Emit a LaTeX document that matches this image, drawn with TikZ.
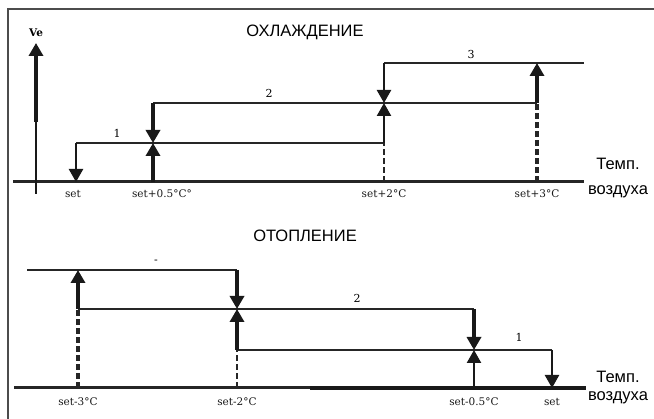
\documentclass[tikz,border=0pt]{standalone}
\usepackage{fontspec}
\setmainfont{Liberation Sans}
\newfontfamily\tickfont{DejaVu Serif}
\usetikzlibrary{arrows.meta}
\tikzset{
  thinline/.style={line width=1.8pt, black!85},
  baseln/.style={line width=3pt, black!85},
  thickarr/.style={line width=3.8pt, black!90, -{Triangle[width=14pt,length=13pt]}},
  medarr/.style={line width=2.4pt, black!90, -{Triangle[width=14pt,length=13pt]}},
  dashln/.style={line width=2.2pt, black!85, dash pattern=on 6pt off 3pt},
  dashthick/.style={line width=3.4pt, black!85, dash pattern=on 6pt off 3pt},
  title/.style={font=\fontsize{16.5}{18}\selectfont, inner sep=0pt},
  axlabel/.style={font=\fontsize{16.5}{18}\selectfont, inner sep=0pt},
  tick/.style={font=\tickfont\fontsize{10.5}{12}\selectfont, inner sep=0pt, black!90},
  num/.style={font=\tickfont\fontsize{11}{12}\selectfont, inner sep=0pt},
  framel/.style={line width=1.8pt, black!70}
}
\begin{document}
\begin{tikzpicture}[x=1pt,y=-1pt]
\useasboundingbox (0,0) rectangle (654,419);
% frame
\coordinate (fl) at (8,419);
\coordinate (fc) at (8,9);
\coordinate (fr) at (654,9);
\draw[framel] (fl) -- (fc) -- (fr);

% ===== Cooling =====
\node[title] (tc) at (305,32) {ОХЛАЖДЕНИЕ};
\coordinate (cb0) at (13,182);
\coordinate (cb1) at (584,182);
\draw[baseln] (cb0) -- (cb1);
% Ve axis
\coordinate (ve0) at (36,194);
\coordinate (ve1) at (36,122);
\coordinate (ve2) at (36,43);
\draw[line width=2.4pt, black!90] (ve0) -- (ve1);
\draw[thickarr] (ve1) -- (ve2);
\node[font=\tickfont\bfseries\fontsize{10.5}{12}\selectfont, inner sep=0pt] (ve) at (36,33) {Ve};
% points
\coordinate (a0) at (76,182);  \coordinate (a1) at (76,143);
\coordinate (b0) at (153,182); \coordinate (b1) at (153,143); \coordinate (b2) at (153,103);
\coordinate (c0) at (384,182); \coordinate (c1) at (384,143); \coordinate (c2) at (384,103); \coordinate (c3) at (384,63);
\coordinate (d0) at (537,182); \coordinate (d2) at (537,103); \coordinate (d3) at (537,63);
\coordinate (e3) at (584,63);
% levels
\draw[thinline] (a1) -- (c1);
\draw[thinline] (b2) -- (d2);
\draw[thinline] (c3) -- (e3);
% arrows
\draw[medarr] (a1) -- (a0);
\draw[thickarr] (b0) -- (b1);
\draw[thickarr] (b2) -- (b1);
\draw[dashln] (c0) -- (c1);
\draw[medarr] (c1) -- (c2);
\draw[medarr] (c3) -- (c2);
\draw[dashthick] (d0) -- (d2);
\draw[thickarr] (d2) -- (d3);
% labels
\node[num] (n1) at (117,133) {1};
\node[num] (n2) at (269,93) {2};
\node[num] (n3) at (471,55) {3};
\node[tick] (t1) at (73,194) {set};
\node[tick] (t2) at (162,194) {set+0.5°C°};
\node[tick] (t3) at (384,194) {set+2°C};
\node[tick] (t4) at (537,194) {set+3°C};
\node[axlabel] (xa1) at (618,164) {Темп.};
\node[axlabel] (xb1) at (618,192) {воздуха};

% ===== Heating =====
\node[title] (th) at (305,236) {ОТОПЛЕНИЕ};
\coordinate (hb0) at (14,388);
\coordinate (hbm) at (310,388);
\coordinate (hb1) at (586,388);
\draw[baseln] (hb0) -- (hb1);
\draw[line width=3.6pt, black!90] (hbm) -- (hb1);
\coordinate (p0) at (78,388);  \coordinate (p2) at (78,309);  \coordinate (p3) at (78,270);
\coordinate (h3s) at (27,270);
\coordinate (q0) at (237,388); \coordinate (q1) at (237,350); \coordinate (q2) at (237,309); \coordinate (q3) at (237,270);
\coordinate (r0) at (474,388); \coordinate (r1) at (474,350); \coordinate (r2) at (474,309);
\coordinate (s0) at (552,388); \coordinate (s1) at (552,350);
\draw[thinline] (h3s) -- (q3);
\draw[thinline] (p2) -- (r2);
\draw[thinline] (q1) -- (s1);
\draw[dashthick] (p0) -- (p2);
\draw[thickarr] (p2) -- (p3);
\draw[thickarr] (q3) -- (q2);
\draw[dashln] (q0) -- (q1);
\draw[thickarr] (q1) -- (q2);
\draw[thickarr] (r2) -- (r1);
\draw[medarr] (r0) -- (r1);
\draw[medarr] (s1) -- (s0);
\node[num] (m3) at (156,262) {-};
\node[num] (m2) at (357,298) {2};
\node[num] (m1) at (519,337) {1};
\node[tick] (u1) at (78,402) {set-3°C};
\node[tick] (u2) at (237,402) {set-2°C};
\node[tick] (u3) at (474,402) {set-0.5°C};
\node[tick] (u4) at (552,402) {set};
\node[axlabel] (xa2) at (618,377) {Темп.};
\node[axlabel] (xb2) at (618,398) {воздуха};
\end{tikzpicture}
\end{document}
